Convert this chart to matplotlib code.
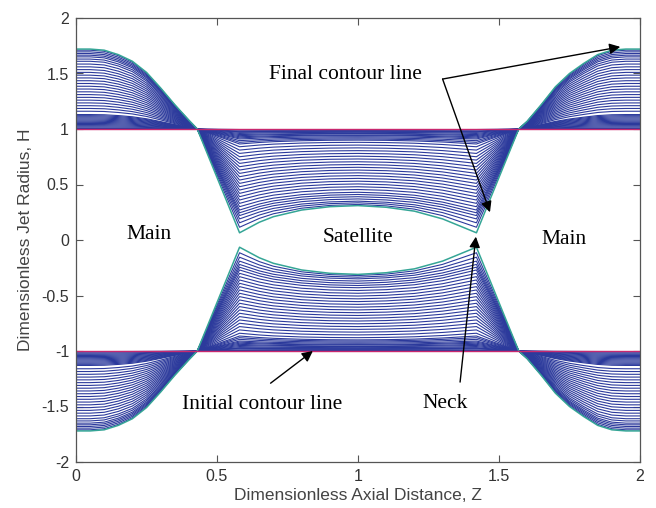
"""Jet break-up: contour lines of the jet radius from initial to final shape."""

import matplotlib

matplotlib.use("Agg")
import matplotlib.pyplot as plt
import numpy as np

plt.rcParams["axes.unicode_minus"] = False

# %% data

# final contour (upper half), H at axial stations Z
final_z = np.array([0.0, 0.05, 0.1, 0.15, 0.2, 0.25, 0.3, 0.35, 0.4, 0.43,
                    0.58, 0.65, 0.7, 0.8, 0.9, 1.0, 1.1, 1.2, 1.3, 1.42,
                    1.57, 1.6, 1.65, 1.7, 1.75, 1.8, 1.85, 1.9, 1.95, 2.0])
final_h = np.array([1.72, 1.72, 1.71, 1.67, 1.61, 1.51, 1.37, 1.22, 1.08, 1.0,
                    0.065, 0.16, 0.21, 0.27, 0.30, 0.31, 0.295, 0.26, 0.19, 0.065,
                    1.0, 1.07, 1.22, 1.38, 1.50, 1.59, 1.67, 1.71, 1.72, 1.72])

# intermediate contours: H at the main drop (Z=0), at the neck (Z=0.58)
# and at the satellite centre (Z=1)
main_levels = [1.005, 1.01, 1.02, 1.03, 1.04, 1.05, 1.06, 1.07, 1.08, 1.09,
               1.10, 1.11, 1.12, 1.13, 1.16, 1.185, 1.21, 1.235, 1.26, 1.285,
               1.31, 1.335, 1.36, 1.385, 1.41, 1.435, 1.46, 1.485, 1.51, 1.535,
               1.56, 1.585, 1.61, 1.63, 1.65, 1.665, 1.68, 1.695, 1.71]
neck_levels = [0.995, 0.99, 0.98, 0.975, 0.97, 0.96, 0.95, 0.94, 0.93, 0.92,
               0.91, 0.895, 0.88, 0.865, 0.84, 0.81, 0.78, 0.75, 0.72, 0.69,
               0.66, 0.63, 0.60, 0.57, 0.54, 0.51, 0.48, 0.45, 0.42, 0.39,
               0.36, 0.33, 0.30, 0.27, 0.245, 0.22, 0.19, 0.155, 0.115]
sat_levels = [0.995, 0.99, 0.985, 0.98, 0.975, 0.97, 0.96, 0.955, 0.945, 0.94,
              0.93, 0.92, 0.91, 0.90, 0.88, 0.855, 0.83, 0.805, 0.78, 0.755,
              0.73, 0.705, 0.68, 0.655, 0.63, 0.605, 0.58, 0.555, 0.53, 0.505,
              0.48, 0.455, 0.43, 0.41, 0.39, 0.37, 0.35, 0.335, 0.32]

PIVOT_L, PIVOT_R = 0.43, 1.57
NECK_L, NECK_R = 0.58, 1.42

# %%


def contour_profile(main, neck, sat):
    """Scale the final profile piece by piece to one intermediate contour."""
    h_main, h_neck, h_sat = final_h[0], final_h[10], final_h[15]
    in_main = (final_z <= PIVOT_L) | (final_z >= PIVOT_R)
    in_sat = (final_z >= NECK_L) & (final_z <= NECK_R)
    h = np.ones_like(final_h)
    h[in_main] = 1 + (main - 1) / (h_main - 1) * (final_h[in_main] - 1)
    h[in_sat] = neck + (sat - neck) * (final_h[in_sat] - h_neck) / (h_sat - h_neck)
    return h


# %% Plotting
fig = plt.figure(figsize=(6.56, 5.08), dpi=100)
ax = fig.add_axes([76 / 656, 46 / 508, 564 / 656, 444 / 508])

line_color = "#2c3a9c"
for m, n, s in zip(main_levels, neck_levels, sat_levels):
    h = contour_profile(m, n, s)
    ax.plot(final_z, h, color=line_color, lw=0.8)
    ax.plot(final_z, -h, color=line_color, lw=0.8)

ax.plot(final_z, final_h, color="#35a596", lw=1.1)
ax.plot(final_z, -final_h, color="#35a596", lw=1.1)
ax.plot([0, 2], [1, 1], color="#c8286e", lw=1.0)
ax.plot([0, 2], [-1, -1], color="#c8286e", lw=1.0)

ax.set_xlim(0, 2)
ax.set_ylim(-2, 2)
ax.set_xticks([0, 0.5, 1, 1.5, 2])
ax.set_xticklabels(["0", "0.5", "1", "1.5", "2"])
ax.set_yticks([-2, -1.5, -1, -0.5, 0, 0.5, 1, 1.5, 2])
ax.set_yticklabels(["-2", "-1.5", "-1", "-0.5", "0", "0.5", "1", "1.5", "2"])
ax.tick_params(direction="in", top=True, right=True, length=5, width=0.8,
               colors="#555555", labelcolor="#333333", labelsize=11.5,
               pad=5)
for lbl in ax.get_xticklabels() + ax.get_yticklabels():
    lbl.set_family("Liberation Sans")
for spine in ax.spines.values():
    spine.set_color("#555555")
    spine.set_linewidth(0.9)

ax.set_xlabel("Dimensionless Axial Distance, Z", family="Liberation Sans",
              fontsize=12.5, color="#444444", labelpad=3)
ax.set_ylabel("Dimensionless Jet Radius, H", family="Liberation Sans",
              fontsize=12.5, color="#444444", labelpad=6)

serif = dict(family="Liberation Serif", fontsize=15.5, color="black")
arrow = dict(arrowstyle="-|>", color="black", lw=1.0, mutation_scale=16,
             shrinkA=0, shrinkB=0)

ax.text(0.955, 1.49, "Final contour line", ha="center", va="center", **serif)
ax.annotate("", xy=(1.93, 1.74), xytext=(1.30, 1.45), arrowprops=arrow)
ax.annotate("", xy=(1.468, 0.25), xytext=(1.30, 1.45), arrowprops=arrow)

ax.text(0.66, -1.48, "Initial contour line", ha="center", va="center", **serif)
ax.annotate("", xy=(0.84, -1.0), xytext=(0.69, -1.29), arrowprops=arrow)

ax.text(1.31, -1.47, "Neck", ha="center", va="center", **serif)
ax.annotate("", xy=(1.418, 0.03), xytext=(1.362, -1.28), arrowprops=arrow)

ax.text(0.26, 0.05, "Main", ha="center", va="center", **serif)
ax.text(1.0, 0.02, "Satellite", ha="center", va="center", **serif)
ax.text(1.73, 0.0, "Main", ha="center", va="center", **serif)

fig.savefig("out.png", dpi=100)
